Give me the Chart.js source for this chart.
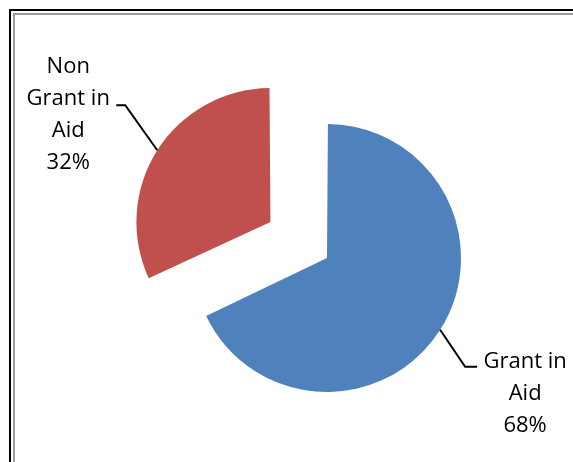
<!DOCTYPE html>
<html>
<head>
<meta charset="utf-8">
<title>Grant in Aid share</title>
<script src="https://cdn.jsdelivr.net/npm/chart.js@4"></script>
<style>
  html, body { margin: 0; padding: 0; background: #fff; overflow: hidden; }
  #pie { display: block; }
</style>
</head>
<body>
<canvas id="pie" width="573" height="462"></canvas>
<script>
// Slices, clockwise from 12 o'clock
const categories = ['Grant in Aid', 'Non Grant in Aid'];
const shares = [68, 32];
// Label text broken into lines
const labelLines = [['Grant in', 'Aid'], ['Non', 'Grant in', 'Aid']];
const sliceColors = ['#4F81BD', '#C0504D'];

// Explode distances per slice (Chart.js arc "offset")
const explode = [23.2, 244.8];
// Leader line elbow and end, relative to the point on the slice rim
const leaderElbow = [[25, 37], [-32, -45]];
const leaderEnd = [[37, 37], [-41, -45]];
// Label block: centre x and first baseline, relative to the leader end
const labelAnchor = [[48, 1], [-48, -32]];
const lineGap = 32;

const total = shares.reduce((a, b) => a + b, 0);

// Double frame along the top and left of the chart
const chartFrame = {
  id: 'chartFrame',
  beforeDraw(chart) {
    const ctx = chart.ctx;
    const w = chart.width, h = chart.height;
    ctx.save();
    ctx.fillStyle = '#fff';
    ctx.fillRect(0, 0, w, h);
    ctx.lineWidth = 2;
    ctx.strokeStyle = '#000';
    ctx.beginPath();
    ctx.moveTo(10, h); ctx.lineTo(10, 10); ctx.lineTo(w, 10);
    ctx.stroke();
    ctx.strokeStyle = '#9a9a9a';
    ctx.beginPath();
    ctx.moveTo(14, h); ctx.lineTo(14, 14); ctx.lineTo(w, 14);
    ctx.stroke();
    ctx.restore();
  }
};

const pieLabels = {
  id: 'pieLabels',
  afterDatasetsDraw(chart) {
    const ctx = chart.ctx;
    const meta = chart.getDatasetMeta(0);
    meta.data.forEach((arc, i) => {
      const p = arc.getProps(['x', 'y', 'startAngle', 'endAngle', 'outerRadius', 'circumference'], true);
      const off = (arc.options.offset || 0) / 4;
      const half = (p.startAngle + p.endAngle) / 2;
      const fix = 1 - Math.sin(Math.min(Math.PI, p.circumference));
      const r = p.outerRadius + off * fix;
      const cx = p.x + Math.cos(half) * off;
      const cy = p.y + Math.sin(half) * off;
      const px = cx + Math.cos(half) * r;
      const py = cy + Math.sin(half) * r;
      const ex = px + leaderElbow[i][0], ey = py + leaderElbow[i][1];
      const tx = px + leaderEnd[i][0], ty = py + leaderEnd[i][1];

      ctx.save();
      ctx.strokeStyle = '#000';
      ctx.lineWidth = 2;
      ctx.lineJoin = 'miter';
      ctx.beginPath();
      ctx.moveTo(px, py);
      ctx.lineTo(ex, ey);
      ctx.lineTo(tx, ty);
      ctx.stroke();

      const pct = Math.round(shares[i] / total * 100) + '%';
      const lines = labelLines[i].concat([pct]);
      ctx.fillStyle = '#000';
      ctx.font = '22px "Open Sans", sans-serif';
      ctx.textAlign = 'center';
      ctx.textBaseline = 'alphabetic';
      const lx = tx + labelAnchor[i][0];
      const ly = ty + labelAnchor[i][1];
      lines.forEach((t, k) => ctx.fillText(t, lx, ly + k * lineGap));
      ctx.restore();
    });
  }
};

new Chart(document.getElementById('pie'), {
  type: 'pie',
  data: {
    labels: categories,
    datasets: [{
      data: shares,
      backgroundColor: sliceColors,
      borderWidth: 0,
      offset: explode,
      radius: 128.2
    }]
  },
  options: {
    responsive: false,
    animation: false,
    events: [],
    layout: { padding: { left: 71.2, top: 47.8, right: 0, bottom: 0 } },
    plugins: {
      legend: { display: false },
      tooltip: { enabled: false },
      title: { display: false }
    }
  },
  plugins: [chartFrame, pieLabels]
});
</script>
</body>
</html>
